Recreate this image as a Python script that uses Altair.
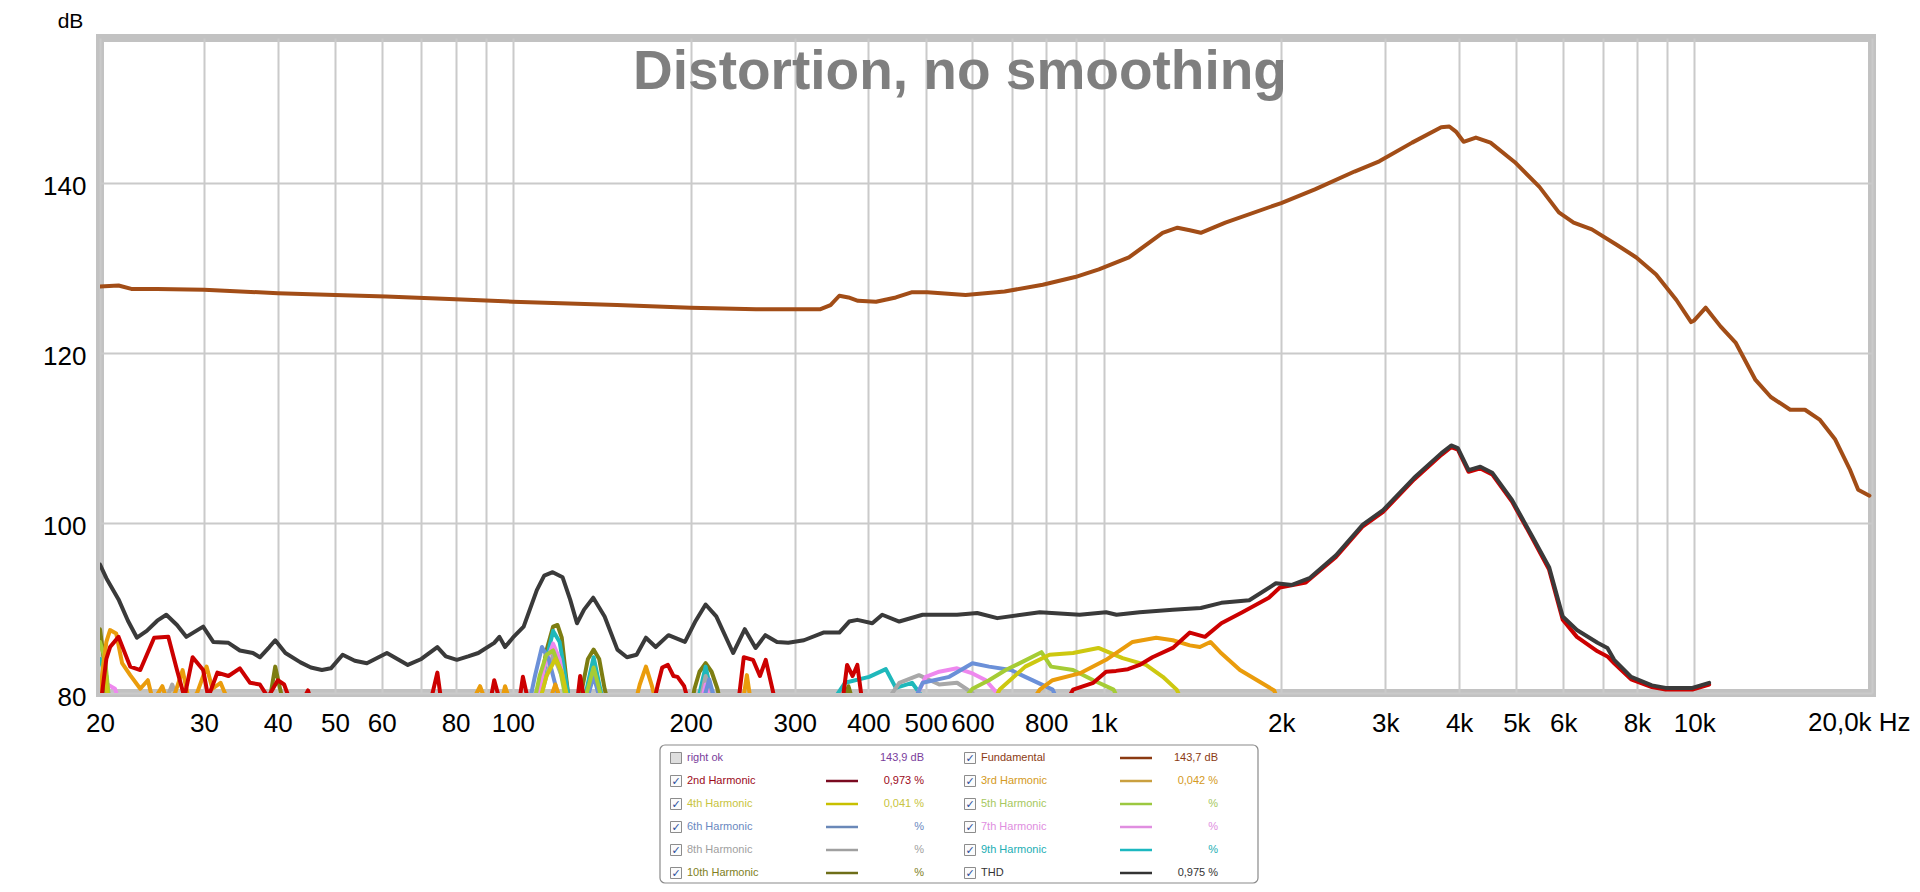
import altair as alt
import pandas as pd

# ---------------- data ----------------
X_GRID = [20, 30, 40, 50, 60, 70, 80, 90,
          100, 200, 300, 400, 500, 600, 700, 800, 900,
          1000, 2000, 3000, 4000, 5000, 6000, 7000, 8000, 9000,
          10000, 20000]
X_TICKS = [20, 30, 40, 50, 60, 80, 100, 200, 300, 400, 500, 600, 800,
           1000, 2000, 3000, 4000, 5000, 6000, 8000, 10000]
X_TICK_LABELS = ["20", "30", "40", "50", "60", "80", "100", "200", "300", "400", "500", "600", "800",
                 "1k", "2k", "3k", "4k", "5k", "6k", "8k", "10k"]
X_END_LABEL = "20,0k Hz"
Y_TICKS = [80, 100, 120, 140]
TITLE = "Distortion, no smoothing"

FUNDAMENTAL = [(20, 127.8), (21.5, 127.9), (22.6, 127.5), (25, 127.5), (30, 127.4), (40, 127.0),
               (50, 126.8), (61, 126.6), (80, 126.3), (100, 126.0), (150, 125.6), (200, 125.3),
               (258, 125.1), (300, 125.1), (331, 125.1), (345, 125.6), (357, 126.7), (370, 126.5),
               (384, 126.1), (412, 126.0), (445, 126.5), (473, 127.1), (503, 127.1), (584, 126.8),
               (680, 127.2), (789, 128.0), (895, 128.9), (982, 129.8), (1104, 131.2), (1259, 134.1),
               (1334, 134.7), (1400, 134.4), (1461, 134.1), (1608, 135.3), (1999, 137.6), (2280, 139.2),
               (2660, 141.3), (2930, 142.5), (3330, 144.7), (3730, 146.5), (3850, 146.6), (3950, 146.0),
               (4070, 144.8), (4270, 145.3), (4520, 144.7), (4970, 142.4), (5470, 139.5), (5900, 136.5),
               (6250, 135.3), (6710, 134.5), (7390, 132.7), (7980, 131.2), (8620, 129.2), (9330, 126.2),
               (9880, 123.6), (10000, 123.8), (10460, 125.3), (11080, 123.1), (11750, 121.2),
               (12700, 116.8), (13480, 114.8), (14540, 113.3), (15400, 113.3), (16330, 112.1),
               (17330, 109.8), (18370, 106.2), (18950, 103.9), (19800, 103.2)]

THD = [(20, 95.1), (20.5, 93.5), (21.5, 91.0), (22.3, 88.5), (23.1, 86.5), (24, 87.3), (25, 88.5),
       (25.9, 89.2), (27, 88.0), (28, 86.6), (29.9, 87.8), (31.1, 86.0), (33, 85.9), (34.5, 85.0),
       (36.3, 84.7), (37.3, 84.2), (38.7, 85.4), (39.6, 86.2), (41.2, 84.7), (43.7, 83.6), (45.5, 83.0),
       (47.5, 82.7), (49.2, 82.9), (51.5, 84.5), (54, 83.8), (56.6, 83.5), (61.2, 84.7), (66.4, 83.3),
       (70, 84.0), (74.5, 85.4), (77, 84.3), (80.4, 83.9), (84, 84.3), (87.4, 84.7), (93, 85.9),
       (94.9, 86.6), (97, 85.4), (100, 86.5), (104.3, 87.8), (109.8, 92.1), (113, 93.8), (116.8, 94.2),
       (121.4, 93.6), (125, 91.0), (128.4, 88.2), (132, 89.8), (136.8, 91.2), (143, 89.0), (150.3, 85.1),
       (156, 84.2), (162, 84.5), (168, 86.5), (174.5, 85.4), (183.4, 86.8), (195.6, 86.0), (204, 88.5),
       (212, 90.4), (221, 89.0), (236, 84.7), (247, 87.5), (257.6, 85.3), (267.6, 86.8), (280, 86.0),
       (292.6, 85.9), (311, 86.2), (335.5, 87.1), (357, 87.1), (371, 88.4), (383, 88.6), (406, 88.2),
       (422, 89.2), (451, 88.4), (494, 89.2), (565, 89.2), (611, 89.4), (661, 88.8), (780, 89.5),
       (911, 89.2), (1010, 89.5), (1052, 89.2), (1151, 89.5), (1310, 89.8), (1461, 90.0), (1583, 90.6),
       (1765, 90.9), (1958, 92.9), (2085, 92.7), (2232, 93.5), (2475, 96.2), (2748, 99.8), (2974, 101.5),
       (3356, 105.3), (3733, 108.2), (3878, 109.1), (3980, 108.8), (4150, 106.2), (4345, 106.6),
       (4550, 105.9), (4915, 102.7), (5320, 98.4), (5680, 94.8), (5990, 89.0), (6330, 87.4),
       (6860, 85.9), (7130, 85.3), (7320, 83.9), (7820, 81.9), (8480, 80.9), (8950, 80.6),
       (9930, 80.6), (10600, 81.2)]

H2 = [(20, 78), (20.5, 84), (20.8, 85.4), (21.5, 86.6), (22.5, 83.1), (23.4, 82.7), (24.7, 86.5),
      (26.1, 86.6), (27, 82.7), (27.8, 79.5), (28.7, 84.2), (29.9, 82.7), (30.5, 79.5), (31.6, 82.4),
      (33, 82.0), (34.5, 82.9), (35.9, 81.2), (37.3, 81.0), (38.5, 79.5), (40, 81.5), (41, 81.0),
      (42, 79), (44, 79), (45, 80.3), (46, 78), (72, 78), (74.5, 82.4), (76, 78), (91, 78), (93, 81.5),
      (96, 78), (102, 78), (104, 81.9), (107, 78), (128, 78), (130, 82.0), (133, 78), (172, 78),
      (176, 81), (179, 83.0), (183, 83.3), (187, 82.0), (190, 81.9), (195, 80.8), (200, 78), (240, 78),
      (246, 84.2), (255, 83.9), (262, 82.0), (268, 83.9), (275, 80.5), (280, 78), (360, 78), (368, 83.3),
      (376, 82), (383, 83.3), (392, 78), (850, 78), (888, 80.4), (961, 81.2), (1010, 82.5), (1050, 82.6),
      (1100, 82.8), (1151, 83.3), (1210, 84.2), (1310, 85.3), (1400, 87.1), (1485, 86.6), (1583, 88.2),
      (1718, 89.5), (1905, 91.2), (1988, 92.4), (2200, 93.0), (2475, 96.0), (2748, 99.6), (2974, 101.3),
      (3356, 105.1), (3733, 108.0), (3878, 108.9), (3980, 108.6), (4150, 106.0), (4345, 106.4),
      (4550, 105.7), (4915, 102.5), (5320, 98.2), (5680, 94.5), (5990, 88.6), (6330, 86.6),
      (6860, 84.9), (7130, 84.3), (7320, 83.5), (7820, 81.6), (8480, 80.7), (8950, 80.4),
      (9930, 80.4), (10600, 81.0)]

H3 = [(20, 80), (20.5, 86), (20.8, 87.4), (21.3, 87.0), (21.8, 83.5), (22.5, 82.1), (23.4, 80.5),
      (24.1, 81.5), (24.6, 79), (25.5, 80.8), (26, 79), (26.8, 80), (27.6, 82.7), (28.3, 79), (29.2, 80),
      (30.3, 83.1), (31, 80.5), (32, 81.2), (33, 79), (34, 78), (84, 78), (88, 80.8), (91, 78), (95, 78),
      (97, 80.8), (100, 78), (114, 78), (118, 81), (122, 78), (160, 78), (164, 81), (168, 83.1),
      (172, 80.8), (176, 78), (244, 78), (249, 82.1), (254, 78), (740, 78), (780, 80.4), (820, 81.5),
      (911, 82.3), (1010, 83.9), (1120, 86.0), (1228, 86.5), (1310, 86.2), (1400, 85.6), (1456, 85.4),
      (1517, 86.0), (1576, 84.8), (1702, 82.7), (1945, 80.3), (2000, 78)]

H4 = [(20, 78), (20.3, 84), (20.7, 78), (110, 78), (114, 82), (118, 84.0), (121, 82.5), (125, 78),
      (640, 78), (667, 80.4), (737, 83.1), (810, 84.5), (888, 84.7), (980, 85.3), (1077, 84.1),
      (1180, 83.3), (1260, 81.9), (1330, 80.4), (1380, 78)]

H5 = [(20, 86), (20.4, 84), (20.8, 78), (108, 78), (111, 82), (114, 84.5), (117, 85), (120, 83),
      (124, 78), (131, 78), (137, 83), (143, 78), (560, 78), (600, 80.5), (640, 81.5), (683, 82.7),
      (726, 83.6), (785, 84.8), (815, 83.1), (888, 82.7), (961, 81.5), (1040, 80.4), (1080, 78)]

H6 = [(106, 78), (109, 82), (112, 85.4), (115, 84), (119, 80), (122, 78), (132, 78), (137, 82),
      (142, 78), (208, 78), (215, 81.6), (222, 78), (470, 78), (494, 81.2), (548, 81.9), (600, 83.5),
      (640, 83.1), (697, 82.7), (737, 81.9), (820, 80.4), (850, 78)]

H7 = [(20, 82), (20.6, 81), (21.2, 80.5), (21.8, 78), (109, 78), (113, 83), (117, 85.8), (120, 84),
      (124, 78), (132, 78), (137, 82.8), (142, 78), (207, 78), (212, 81.0), (218, 78), (470, 78),
      (500, 81.9), (527, 82.5), (565, 82.9), (600, 82.3), (632, 81.5), (660, 80), (680, 78)]

H8 = [(25.5, 78), (26.5, 81), (27.5, 78), (110, 78), (114, 82), (117, 84.5), (121, 82), (125, 78),
      (132, 78), (137, 82.7), (142, 78), (206, 78), (212, 82), (219, 78), (420, 78), (451, 81.2),
      (487, 82.1), (527, 81.0), (565, 81.2), (600, 80), (620, 78)]

H9 = [(20, 84), (20.5, 82), (20.8, 78), (110, 78), (114, 84), (117, 87.3), (120, 86), (124, 80),
      (127, 78), (131, 78), (137, 84.2), (143, 78), (204, 78), (212, 83.1), (220, 78), (340, 78),
      (365, 81.2), (401, 81.9), (428, 82.8), (445, 80.6), (474, 81.2), (500, 79), (520, 78)]

H10 = [(20, 87.5), (20.3, 84), (20.6, 78), (38.5, 78), (39.6, 83.1), (40.5, 80), (41, 78), (108, 78),
       (111, 80.5), (114, 85), (117, 87.8), (119, 88.0), (121, 86.5), (123, 82), (125, 78), (129, 78),
       (131, 80.5), (134, 84), (137, 85.1), (140, 84), (143, 80.5), (146, 78), (200, 78), (203, 80.5),
       (207, 82.5), (212, 83.5), (217, 82.5), (222, 80.5), (226, 78), (360, 78), (370, 80.8), (380, 78)]

# drawing order: harmonics first, then THD, then the fundamental on top
SERIES_NAMES = ["10th Harmonic", "9th Harmonic", "8th Harmonic", "7th Harmonic", "6th Harmonic",
                "5th Harmonic", "4th Harmonic", "3rd Harmonic", "2nd Harmonic", "THD", "Fundamental"]
SERIES_DATA = [H10, H9, H8, H7, H6, H5, H4, H3, H2, THD, FUNDAMENTAL]
SERIES_COLORS = ["#7d7d12", "#1fb8bb", "#a8a8a8", "#ee88ee", "#6b90d8",
                 "#a5cc35", "#cdc810", "#ea9c0c", "#cc0000", "#3a3a3a", "#a24d17"]

LEGEND_LABELS = ["right ok", "Fundamental", "2nd Harmonic", "3rd Harmonic", "4th Harmonic",
                 "5th Harmonic", "6th Harmonic", "7th Harmonic", "8th Harmonic", "9th Harmonic",
                 "10th Harmonic", "THD"]
LEGEND_VALUES = ["143,9 dB", "143,7 dB", "0,973 %", "0,042 %", "0,041 %", "%", "%", "%", "%", "%",
                 "%", "0,975 %"]
LEGEND_CHECKED = [False, True, True, True, True, True, True, True, True, True, True, True]
LEGEND_TEXT_COLORS = ["#7a3d9c", "#8b3a12", "#9b0a1a", "#d49a22", "#c8c440", "#a6c860",
                      "#6a88c0", "#e08ee0", "#a0a0a0", "#22aeb4", "#80801e", "#333333"]
LEGEND_SWATCH_COLORS = [None, "#8b3a12", "#7a0a20", "#caa040", "#c8c000", "#9cc840",
                        "#6a88b8", "#e08ee0", "#a0a0a0", "#1cb8c0", "#6e6e18", "#333333"]

# ---------------- layout ----------------
W, H = 1772, 655
FONT = "Liberation Sans"

rows = []
for k, (name, pts) in enumerate(zip(SERIES_NAMES, SERIES_DATA)):
    for f, d in pts:
        rows.append({"series": name, "freq": f, "db": d, "k": k})
df = pd.DataFrame(rows)

label_expr = "".join(f"datum.value == {v} ? '{t}' : " for v, t in zip(X_TICKS, X_TICK_LABELS)) + "''"

x_enc = alt.X("freq:Q",
              scale=alt.Scale(type="log", domain=[20, 20000], nice=False),
              axis=alt.Axis(values=X_GRID, labelExpr=label_expr, grid=True, gridColor="#cacaca",
                            gridWidth=2, ticks=False, domain=False, labelFont=FONT, labelFontSize=26,
                            labelColor="#000000", labelPadding=17, labelFlush=False,
                            labelOverlap=False, labelBound=False, title=None))
y_enc = alt.Y("db:Q",
              scale=alt.Scale(domain=[80, 157], nice=False, zero=False),
              axis=alt.Axis(values=Y_TICKS, grid=True, gridColor="#cacaca", gridWidth=2,
                            ticks=False, domain=False, labelFont=FONT, labelFontSize=26,
                            labelColor="#000000", labelPadding=14, labelOffset=4,
                            labelBaseline="middle", title="dB", titleAngle=0, titleX=-30,
                            titleY=-17, titleAlign="center", titleBaseline="middle",
                            titleFont=FONT, titleFontSize=21, titleFontWeight="normal",
                            titleColor="#000000"))

lines = alt.Chart(df).mark_line(clip=True, strokeWidth=4, strokeJoin="round",
                                strokeCap="round").encode(
    x=x_enc, y=y_enc,
    color=alt.Color("series:N", scale=alt.Scale(domain=SERIES_NAMES, range=SERIES_COLORS),
                    legend=None),
    detail="series:N",
)

end_label = alt.Chart(pd.DataFrame({"freq": [20000], "db": [80], "label": [X_END_LABEL]})).mark_text(
    align="left", baseline="top", dx=-64, dy=17, fontSize=26, font=FONT, color="#000000"
).encode(x="freq:Q", y="db:Q", text="label:N")

title = alt.Chart(pd.DataFrame({"t": [TITLE]})).mark_text(
    align="center", baseline="alphabetic", fontSize=55, fontWeight="bold", font=FONT,
    color="#7f7f7f"
).encode(x=alt.value(W / 2 - 26), y=alt.value(51), text="t:N")

# ---------------- legend box ----------------
BOX = (560, 1158, 707, 845)
COL_X = [576, 870]
ROW_Y0, ROW_DY = 720, 23

leg = []
for i, lab in enumerate(LEGEND_LABELS):
    r, c = divmod(i, 2)
    cx = COL_X[c]
    cy = ROW_Y0 + ROW_DY * r
    leg.append({
        "label": lab, "value": LEGEND_VALUES[i], "tc": LEGEND_TEXT_COLORS[i],
        "sc": LEGEND_SWATCH_COLORS[i] or "#ffffff", "has_sw": LEGEND_SWATCH_COLORS[i] is not None,
        "checked": LEGEND_CHECKED[i],
        "bx1": cx - 5.5, "bx2": cx + 5.5, "by1": cy - 5.5, "by2": cy + 5.5,
        "cx": cx, "cy": cy, "lx": cx + 11, "sx1": cx + 150, "sx2": cx + 182, "vx": cx + 248,
        "bfill": "#fbfbfb" if LEGEND_CHECKED[i] else "#dedede",
    })
ldf = pd.DataFrame(leg)


def px(field):
    return alt.X(f"{field}:Q", scale=None, axis=None)


def py(field):
    return alt.Y(f"{field}:Q", scale=None, axis=None)


box = alt.Chart(pd.DataFrame({"x1": [BOX[0]], "x2": [BOX[1]], "y1": [BOX[2]], "y2": [BOX[3]]})).mark_rect(
    cornerRadius=5, fill="#ffffff", stroke="#8a8a8a", strokeWidth=1.2
).encode(x=px("x1"), x2=alt.X2("x2:Q"), y=py("y1"), y2=alt.Y2("y2:Q"))

checkbox = alt.Chart(ldf).mark_rect(stroke="#8c8c8c", strokeWidth=1).encode(
    x=px("bx1"), x2=alt.X2("bx2:Q"), y=py("by1"), y2=alt.Y2("by2:Q"),
    fill=alt.Fill("bfill:N", scale=None))

check = alt.Chart(ldf).transform_filter("datum.checked").mark_text(
    text="✓", font="DejaVu Sans", fontSize=11, fontWeight="bold", color="#2a4c9c",
    align="center", baseline="middle", dy=0.5
).encode(x=px("cx"), y=py("cy"))

labels = alt.Chart(ldf).mark_text(align="left", baseline="middle", font=FONT, fontSize=11).encode(
    x=px("lx"), y=py("cy"), text="label:N", color=alt.Color("tc:N", scale=None))

swatch = alt.Chart(ldf).transform_filter("datum.has_sw").mark_rule(strokeWidth=2.5).encode(
    x=px("sx1"), x2=alt.X2("sx2:Q"), y=py("cy"), color=alt.Color("sc:N", scale=None))

values = alt.Chart(ldf).mark_text(align="right", baseline="middle", font=FONT, fontSize=11).encode(
    x=px("vx"), y=py("cy"), text="value:N", color=alt.Color("tc:N", scale=None))

chart = alt.layer(lines, end_label, title, box, checkbox, check, labels, swatch, values).properties(
    width=W, height=H,
    autosize=alt.AutoSizeParams(type="none"),
    padding={"left": 92, "top": 30, "right": 40, "bottom": 191},
    background="#ffffff",
).configure_view(stroke="#c2c2c2", strokeWidth=8)

chart.save("out.html", embed_options={"renderer": "svg", "actions": False})
